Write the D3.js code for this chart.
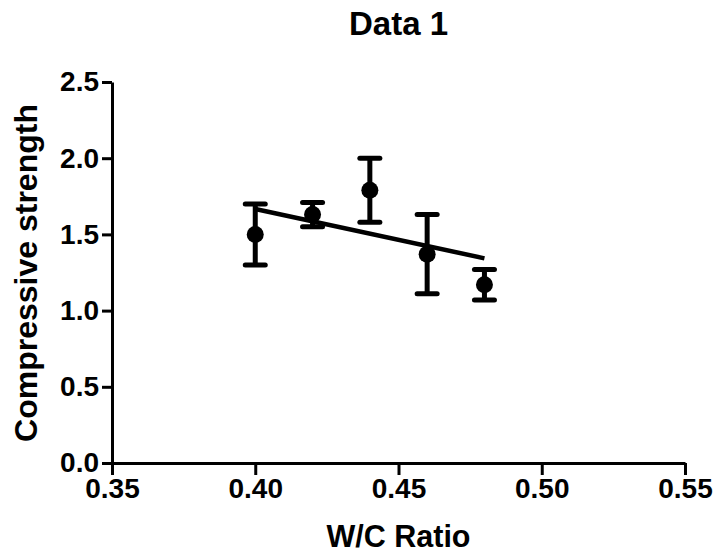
<!DOCTYPE html>
<html><head><meta charset="utf-8">
<script src="https://cdn.jsdelivr.net/npm/d3@7"></script>
<style>
body{margin:0;background:#fff;}
svg{display:block;font-family:"Liberation Sans",Arial,sans-serif;}
</style></head>
<body><svg id="c" width="716" height="556"></svg>
<script>
const wcRatio = [0.40, 0.42, 0.44, 0.46, 0.48];
const strengthMean = [1.50, 1.63, 1.79, 1.37, 1.17];
const strengthErr = [0.20, 0.08, 0.21, 0.26, 0.10];
const fitLine = [[0.40, 1.667], [0.48, 1.343]];
const xTicks = [0.35, 0.40, 0.45, 0.50, 0.55];
const yTicks = [0.0, 0.5, 1.0, 1.5, 2.0, 2.5];

const svg = d3.select("#c");
const x = d3.scaleLinear().domain([0.35, 0.55]).range([112, 685]);
const y = d3.scaleLinear().domain([0, 2.5]).range([463, 82]);

// title
svg.append("text").attr("x", 398.5).attr("y", 35).attr("text-anchor", "middle")
  .attr("font-size", 33).attr("font-weight", "bold").text("Data 1");

// x axis
const gx = svg.append("g").attr("transform", "translate(0,463)")
  .call(d3.axisBottom(x).tickValues(xTicks).tickFormat(d3.format(".2f")).tickSize(12).tickSizeOuter(0).tickPadding(3));
gx.select(".domain").attr("stroke-width", 3);
gx.selectAll(".tick line").attr("stroke-width", 3);
gx.selectAll(".tick text").attr("font-size", 28).attr("font-weight", "bold").attr("font-family", "'Liberation Sans',Arial,sans-serif").attr("fill", "#000");

// y axis
const gy = svg.append("g").attr("transform", "translate(112,0)")
  .call(d3.axisLeft(y).tickValues(yTicks).tickFormat(d3.format(".1f")).tickSize(10).tickSizeOuter(0).tickPadding(3));
gy.select(".domain").attr("stroke-width", 3);
gy.selectAll(".tick line").attr("stroke-width", 3);
gy.selectAll(".tick text").attr("font-size", 28).attr("font-weight", "bold").attr("font-family", "'Liberation Sans',Arial,sans-serif").attr("fill", "#000");

// axis titles
svg.append("text").attr("x", 398.5).attr("y", 547).attr("text-anchor", "middle")
  .attr("font-size", 30.5).attr("font-weight", "bold").text("W/C Ratio");
svg.append("text").attr("transform", "translate(37,273) rotate(-90)").attr("text-anchor", "middle")
  .attr("font-size", 32).attr("font-weight", "bold").text("Compressive strength");

// fit line
svg.append("path").datum(fitLine)
  .attr("d", d3.line().x(d => x(d[0])).y(d => y(d[1])))
  .attr("fill", "none").attr("stroke", "#000").attr("stroke-width", 4.5);

// error bars
const pts = wcRatio.map((w, i) => ({w, m: strengthMean[i], e: strengthErr[i]}));
const eb = svg.append("g").selectAll("g").data(pts).join("g");
eb.append("line").attr("x1", d => x(d.w)).attr("x2", d => x(d.w))
  .attr("y1", d => y(d.m + d.e)).attr("y2", d => y(d.m - d.e))
  .attr("stroke", "#000").attr("stroke-width", 5);
eb.append("line").attr("x1", d => x(d.w) - 10).attr("x2", d => x(d.w) + 10)
  .attr("y1", d => y(d.m + d.e)).attr("y2", d => y(d.m + d.e))
  .attr("stroke", "#000").attr("stroke-width", 5).attr("stroke-linecap", "round");
eb.append("line").attr("x1", d => x(d.w) - 10).attr("x2", d => x(d.w) + 10)
  .attr("y1", d => y(d.m - d.e)).attr("y2", d => y(d.m - d.e))
  .attr("stroke", "#000").attr("stroke-width", 5).attr("stroke-linecap", "round");
eb.append("circle").attr("cx", d => x(d.w)).attr("cy", d => y(d.m)).attr("r", 8.5).attr("fill", "#000");
</script></body></html>
